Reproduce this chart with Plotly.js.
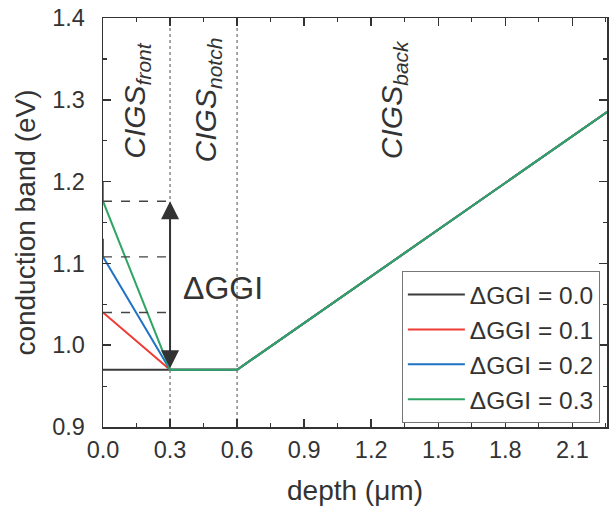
<!DOCTYPE html>
<html>
<head>
<meta charset="utf-8">
<script src="https://cdn.plot.ly/plotly-3.0.1.min.js"></script>
<style>html,body{margin:0;padding:0;background:#fff;}#chart{width:610px;height:515px;}</style>
</head>
<body>
<div id="chart"></div>
<script>
// Data
const seriesNames = ["ΔGGI = 0.0", "ΔGGI = 0.1", "ΔGGI = 0.2", "ΔGGI = 0.3"];
const depth00 = [0, 0.3, 0.6, 2.255];
const cb00    = [0.97, 0.97, 0.97, 1.285];
const depth01 = [0, 0.3, 0.6, 2.255];
const cb01    = [1.04, 0.97, 0.97, 1.285];
const depth02 = [0, 0, 0.3, 0.6, 2.255];
const cb02    = [1.13, 1.108, 0.97, 0.97, 1.285];
const depth03 = [0, 0, 0.3, 0.6, 2.255];
const cb03    = [1.2, 1.176, 0.97, 0.97, 1.285];
const seriesColors = ["#3a3a3a", "#ee3b34", "#1f72c4", "#2fa563"];
const regionBounds = [0.3, 0.6];
const levels = [1.04, 1.108, 1.176];
const regionLabels = ["<i>CIGS<sub>front</sub></i>", "<i>CIGS<sub>notch</sub></i>", "<i>CIGS<sub>back</sub></i>"];
const regionLabelX = [0.152, 0.468, 1.299];
const xTicks = [0.0, 0.3, 0.6, 0.9, 1.2, 1.5, 1.8, 2.1];
const yTicks = [0.9, 1.0, 1.1, 1.2, 1.3, 1.4];

const FONT = "Arial, 'Liberation Sans', sans-serif";
const xs = [depth00, depth01, depth02, depth03];
const ys = [cb00, cb01, cb02, cb03];
const traces = xs.map((x, i) => ({
  x: x, y: ys[i], type: "scatter", mode: "lines", name: seriesNames[i],
  line: {color: seriesColors[i], width: 2}
}));

const shapes = [];
regionBounds.forEach(b => shapes.push({type: "line", xref: "x", yref: "paper", x0: b, x1: b, y0: 0, y1: 1,
  line: {color: "#8a8a8a", width: 1.5, dash: "dot"}, layer: "below"}));
levels.forEach(l => shapes.push({type: "line", xref: "x", yref: "y", x0: 0, x1: regionBounds[0], y0: l, y1: l,
  line: {color: "#444", width: 1.3, dash: "dash"}}));

const annotations = regionLabels.map((t, i) => ({
  text: t, x: regionLabelX[i], y: 1.30, xref: "x", yref: "y", showarrow: false,
  textangle: -90, xanchor: "center", yanchor: "middle", font: {family: FONT, size: 30, color: "#333"}
}));
annotations.push({x: regionBounds[0], y: levels[2], ax: regionBounds[0], ay: cb00[0], xref: "x", yref: "y",
  axref: "x", ayref: "y", text: "", showarrow: true, arrowhead: 2, startarrowhead: 2, arrowside: "end+start",
  arrowwidth: 2, arrowsize: 1.8, startarrowsize: 1.8, arrowcolor: "#333", standoff: 0, startstandoff: 0});
annotations.push({text: "ΔGGI", x: 0.535, y: 1.07, xref: "x", yref: "y", showarrow: false,
  font: {family: FONT, size: 32, color: "#333"}});

const axisCommon = {
  showline: true, linecolor: "#333", linewidth: 1.5, mirror: "ticks", ticks: "inside",
  ticklen: 8, tickwidth: 1.5, tickcolor: "#333", showgrid: false, zeroline: false,
  tickfont: {family: FONT, size: 23.5, color: "#333"}, tickformat: ".1f"
};

const layout = {
  width: 610, height: 515,
  margin: {l: 103, r: 3, t: 18, b: 88},
  paper_bgcolor: "#fff", plot_bgcolor: "#fff",
  font: {family: FONT, color: "#333"},
  xaxis: Object.assign({}, axisCommon, {
    range: [0, 2.255], tickmode: "array", tickvals: xTicks, ticklabelstandoff: 1,
    minor: {ticks: "inside", ticklen: 4, tickwidth: 1.2, tickcolor: "#333", dtick: 0.15},
    title: {text: "depth (μm)", font: {family: FONT, size: 28, color: "#333"}, standoff: 18}
  }),
  yaxis: Object.assign({}, axisCommon, {
    range: [0.9, 1.4], tickmode: "array", tickvals: yTicks, ticklabelstandoff: 12,
    minor: {ticks: "inside", ticklen: 4, tickwidth: 1.2, tickcolor: "#333", dtick: 0.05},
    title: {text: "conduction band (eV)", font: {family: FONT, size: 28, color: "#333"}, standoff: 8}
  }),
  showlegend: true,
  legend: {x: 0.593, y: 0.381, xanchor: "left", yanchor: "top", bgcolor: "#fff",
    bordercolor: "#777", borderwidth: 1, itemwidth: 57,
    font: {family: FONT, size: 24.5, color: "#333"}},
  shapes: shapes, annotations: annotations
};

Plotly.newPlot("chart", traces, layout, {displayModeBar: false, staticPlot: true});
</script>
</body>
</html>
